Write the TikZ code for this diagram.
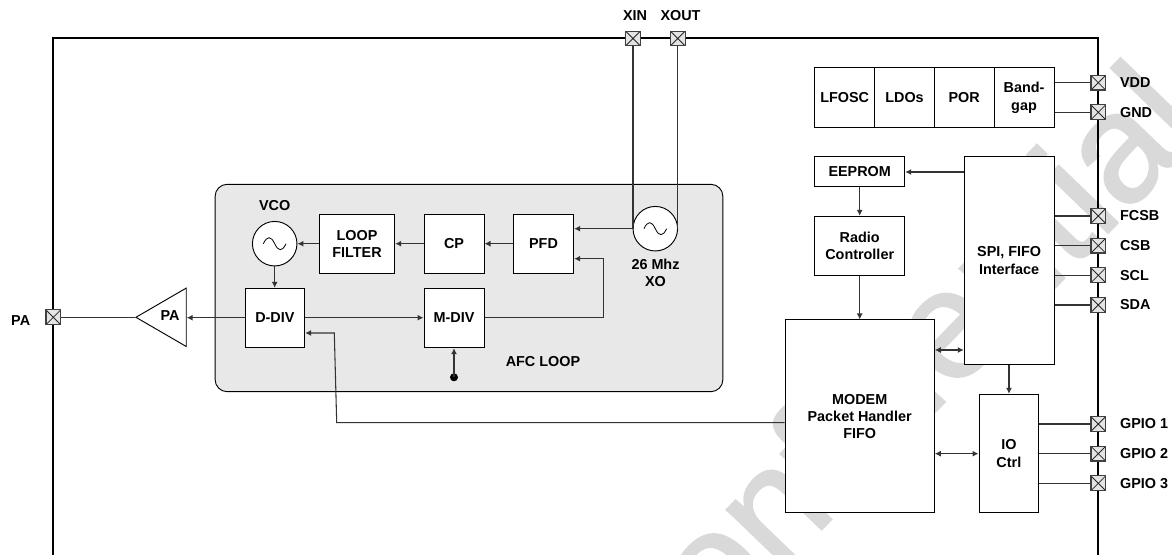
\documentclass[tikz,border=0pt]{standalone}
\usepackage{fontspec}
\setmainfont{Liberation Sans}
\newfontfamily\wmfont[FakeBold=1.5]{Liberation Sans}
\usetikzlibrary{shapes.geometric,arrows.meta}
\definecolor{wm}{HTML}{D9D9D9}
\definecolor{loopbg}{HTML}{E8E8E8}
\definecolor{padbg}{HTML}{E4E4E4}
\tikzset{
  px/.style={x=0.75pt,y=-0.75pt},
  lbl/.style={font=\bfseries\fontsize{10.8pt}{13pt}\selectfont,align=center,inner sep=0pt},
  pinlbl/.style={lbl,anchor=west},
  block/.style={draw=black,fill=white,line width=0.75pt,inner sep=0pt,font=\bfseries\fontsize{10.8pt}{13pt}\selectfont,align=center},
  pad/.style={draw=black!75,fill=padbg,line width=0.8pt,minimum size=11pt,inner sep=0pt,path picture={
    \draw[black!85,line width=0.6pt] (path picture bounding box.south west)--(path picture bounding box.north east)
      (path picture bounding box.north west)--(path picture bounding box.south east);}},
  osc/.style={circle,draw=black,fill=white,line width=0.7pt,minimum size=33.4pt,inner sep=0pt,path picture={
    \draw[black,line width=0.6pt] ([xshift=-8.5pt]path picture bounding box.center)
      .. controls +(2.8pt,6pt) and +(-2.8pt,6pt) .. (path picture bounding box.center)
      .. controls +(2.8pt,-6pt) and +(-2.8pt,-6pt) .. ([xshift=8.5pt]path picture bounding box.center);}},
  wire/.style={draw=black!80,line width=0.8pt},
  sig/.style={wire,-{Latex[length=4.5pt,width=4.5pt]}},
  bisig/.style={wire,{Latex[length=4.5pt,width=4.5pt]}-{Latex[length=4.5pt,width=4.5pt]}},
}
\newcommand{\boxat}[6]{% name, x1, y1, x2, y2, text
  \node[block,minimum width={(#4-#2)*0.75pt},minimum height={(#5-#3)*0.75pt}] (#1) at ({(#2+#4)/2},{(#3+#5)/2}) {#6};}
\begin{document}
\begin{tikzpicture}[px]
\useasboundingbox (0,0) rectangle (1172,555);
% watermark
\node[rotate=46,text=wm,inner sep=0pt,font=\wmfont\fontsize{116pt}{116pt}\selectfont] (wmark) at (885,384) {Confidential};
% chip frame
\draw[black,line width=1.5pt] (53.3,555) -- (53.3,38.5) -- (1098.3,38.5) -- (1098.3,555);
% AFC
\node[draw=black,fill=loopbg,line width=0.7pt,rounded corners=9pt,minimum width={507.7*0.75pt},minimum height={207.4*0.75pt},inner sep=0pt] (afc) at (469,288) {};
\node[lbl] (afclbl) at (543,362) {AFC LOOP};
% pads
\foreach \n/\x/\y in {xin/633/38.5,xout/677.7/38.5,papad/53.3/317.3,vdd/1098.3/82.7,gnd/1098.3/112.3,fcsb/1098.3/216,csb/1098.3/245.7,scl/1098.3/275.3,sda/1098.3/305,gpioa/1098.3/424,gpiob/1098.3/453.7,gpioc/1098.3/483.3}
  \node[pad] (\n) at (\x,\y) {};
\node[lbl] (xinl) at (635,16) {XIN};
\node[lbl] (xoutl) at (680.5,16) {XOUT};
\node[lbl] (pal) at (20.7,321) {PA};
\foreach \n/\t/\y in {vdd/VDD/82.7,gnd/GND/112.3,fcsb/FCSB/216,csb/CSB/245.7,scl/SCL/275.3,sda/SDA/305,gpioa/GPIO 1/424,gpiob/GPIO 2/453.7,gpioc/GPIO 3/483.3}
  \node[pinlbl] (\n l) at (1119.8,\y) {\t};
% blocks
\boxat{lf}{319.3}{214.3}{394.7}{273.3}{LOOP\\FILTER}
\boxat{cp}{424}{214.3}{484}{273.3}{CP}
\boxat{pfd}{513.3}{214.3}{573.7}{273.3}{PFD}
\boxat{ddiv}{245}{288.3}{304.7}{347.7}{D-DIV}
\boxat{mdiv}{424}{288.3}{484}{347.7}{M-DIV}
\node[osc] (vco) at (274.7,243.7) {};
\node[osc] (xo) at (655.3,228.7) {};
\node[lbl] (vcol) at (274.7,205.7) {VCO};
\node[lbl] (xol) at (655.5,273) {26 Mhz\\XO};
\node[isosceles triangle,isosceles triangle apex angle=60,isosceles triangle stretches,shape border rotate=180,minimum width={58.4*0.75pt},minimum height={50.3*0.75pt},inner sep=0pt,draw=black,fill=white,line width=0.7pt,anchor=apex] (pa) at (135,317.3) {};
\node[lbl] (patxt) at (170,316) {PA};
\boxat{lfosc}{814.7}{68}{874.7}{127.3}{LFOSC}
\boxat{ldos}{874.7}{68}{934.3}{127.3}{LDOs}
\boxat{por}{934.3}{68}{994}{127.3}{POR}
\boxat{bg}{994}{68}{1054}{127.3}{Band-\\gap}
\boxat{eeprom}{814.7}{157}{904.7}{186.3}{EEPROM}
\boxat{radio}{814.7}{216.3}{904.7}{275.7}{Radio\\Controller}
\boxat{spi}{964.3}{157}{1054}{364.3}{SPI, FIFO\\Interface}
\boxat{modem}{785}{320}{934.3}{513}{MODEM\\Packet Handler\\FIFO}
\boxat{io}{979}{394.3}{1038.7}{513}{IO\\Ctrl}
% dot
\node[circle,fill=black,minimum size=6pt,inner sep=0pt] (dot) at (454,377.3) {};
% junctions
\coordinate (j1) at (603.3,317.7);
\coordinate (j2) at (603.3,258.7);
\coordinate (j3) at (336.7,422.7);
\coordinate (j4) at (334.3,333);
% connectors
\draw[wire] (papad.east) -- (pa.apex);
\draw[sig] (ddiv.west |- j1) -- (pa.lower side |- j1);
\draw[sig] (ddiv.east |- j1) -- (mdiv.west |- j1);
\draw[sig] (mdiv.east |- j1) -- (j1) -- (j2) -- (pfd.east |- j2);
\draw[sig] (dot.center) -- (mdiv.south);
\draw[sig] (vco.south) -- (ddiv.north -| vco.south);
\draw[sig] (lf.west |- vco.east) -- (vco.east);
\draw[sig] (cp.west |- vco.east) -- (lf.east |- vco.east);
\draw[sig] (pfd.west |- vco.east) -- (cp.east |- vco.east);
\draw[sig] (xo.west) -- (pfd.east |- xo.west);
\draw[wire] (xin.south) -- (xo.west -| xin.south);
\draw[wire] (xout.south) -- (xo.east -| xout.south);
\draw[sig] (modem.west |- j3) -- (j3) -- (j4) -- (ddiv.east |- j4);
\draw[wire] (bg.east |- vdd.west) -- (vdd.west);
\draw[wire] (bg.east |- gnd.west) -- (gnd.west);
\foreach \p in {fcsb,csb,scl,sda} \draw[wire] (spi.east |- \p.west) -- (\p.west);
\foreach \p in {gpioa,gpiob,gpioc} \draw[wire] (io.east |- \p.west) -- (\p.west);
\coordinate (j5) at (964.3,172);
\coordinate (j6) at (964.3,350);
\coordinate (j8) at (1009,300);
\draw[sig] (spi.west |- j5) -- (eeprom.east |- j5);
\draw[sig] (eeprom.south) -- (radio.north);
\draw[sig] (radio.south) -- (modem.north -| radio.south);
\draw[bisig] (modem.east |- j6) -- (spi.west |- j6);
\draw[bisig] (modem.east |- gpiob.west) -- (io.west |- gpiob.west);
\draw[sig] (spi.south -| j8) -- (io.north -| j8);
\end{tikzpicture}
\end{document}
